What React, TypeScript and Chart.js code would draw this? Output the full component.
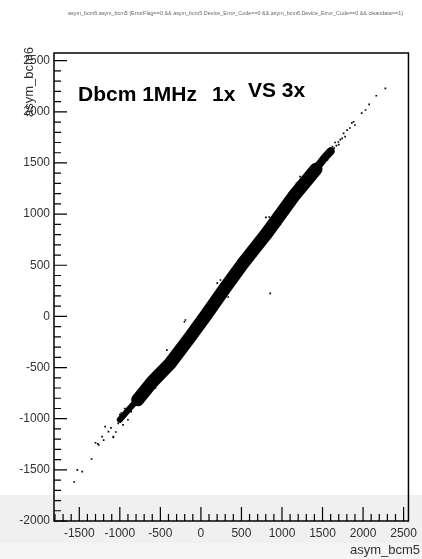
import { useEffect, useRef } from "react";
import { Chart, registerables } from "chart.js";

Chart.register(...registerables);

// ---- data ----
const X_MIN = -1812;
const X_MAX = 2560;
const Y_MIN = -2000;
const Y_MAX = 2575;
const X_TICKS = [-1500, -1000, -500, 0, 500, 1000, 1500, 2000, 2500];
const Y_TICKS = [-2000, -1500, -1000, -500, 0, 500, 1000, 1500, 2000, 2500];
const MINOR_STEP = 100;

// dense core of the correlation band (centre line)
const BAND_CORE = [
  { x: -780, y: -815 },
  { x: -600, y: -640 },
  { x: -380, y: -460 },
  { x: -150, y: -220 },
  { x: 70, y: 20 },
  { x: 300, y: 280 },
  { x: 520, y: 520 },
  { x: 800, y: 800 },
  { x: 1140, y: 1170 },
  { x: 1420, y: 1440 },
];
// thinner ends of the band
const BAND_LOW_TAIL = [
  { x: -1000, y: -1010 },
  { x: -880, y: -900 },
  { x: -760, y: -795 },
];
const BAND_HIGH_TAIL = [
  { x: 1400, y: 1425 },
  { x: 1520, y: 1545 },
  { x: 1600, y: 1615 },
];

// sparse events / outliers
const SPARSE_X = [
  2275, 2163, 2075, 2031, 1983, 1883, 1862, 1899, 1839, 1803, 1779, 1742, 1719, 1695, 1671, 1643, 1622, 1599,
  1760, 1700, 1655, 1580, 1560,
  855, 802, 842, 337, 202, 241, -191, -159, -203, 1223, 1180, 980, 620, -420, -560,
  -1300, -1272, -1348, -1524, -1464, -1564, -1140, -1080, -1200, -1220, -1181, -1020, -983, -1260, -1080,
  -1110, -1050, -940, -900, -860, -1000, -960,
];
const SPARSE_Y = [
  2230, 2157, 2073, 2018, 1988, 1903, 1891, 1871, 1842, 1822, 1757, 1741, 1728, 1705, 1669, 1646, 1659, 1627,
  1790, 1680, 1700, 1620, 1530,
  226, 969, 972, 190, 326, 356, -35, -263, -52, 1366, 1300, 900, 700, -330, -700,
  -1235, -1247, -1394, -1501, -1518, -1619, -1127, -1176, -1209, -1176, -1078, -1045, -944, -1257, -1182,
  -1090, -1130, -900, -1010, -930, -960, -1060,
];

const TOP_TITLE =
  "asym_bcm6:asym_bcm5 {ErrorFlag==0 && asym_bcm5.Device_Error_Code==0 && asym_bcm6.Device_Error_Code==0 && cleandata==1}";
const LABEL_MAIN = "Dbcm 1MHz";
const LABEL_1X = "1x";
const LABEL_VS = "VS 3x";
const X_TITLE = "asym_bcm5";
const Y_TITLE = "asym_bcm6";

const FONT = "'Liberation Sans', Arial, Helvetica, sans-serif";

const framePlugin = {
  id: "rootFrame",
  afterDraw(chart: any) {
    const { ctx, chartArea } = chart;
    const xs = chart.scales.x;
    const ys = chart.scales.y;
    const { left, right, top, bottom } = chartArea;
    ctx.save();
    ctx.strokeStyle = "#000";
    ctx.lineWidth = 1.5;
    ctx.strokeRect(left, top, right - left, bottom - top);

    ctx.lineWidth = 1.2;
    ctx.beginPath();
    for (let v = Math.ceil(Y_MIN / MINOR_STEP) * MINOR_STEP; v <= Y_MAX; v += MINOR_STEP) {
      const py = ys.getPixelForValue(v);
      if (py < top || py > bottom) continue;
      const len = v % 500 === 0 ? 13 : 7;
      ctx.moveTo(left, py);
      ctx.lineTo(left + len, py);
    }
    for (let v = Math.ceil(X_MIN / MINOR_STEP) * MINOR_STEP; v <= X_MAX; v += MINOR_STEP) {
      const px = xs.getPixelForValue(v);
      if (px < left || px > right) continue;
      const len = v % 500 === 0 ? 14 : 7;
      ctx.moveTo(px, bottom);
      ctx.lineTo(px, bottom - len);
    }
    ctx.stroke();

    // top tiny title
    ctx.fillStyle = "#666";
    ctx.font = `6px ${FONT}`;
    ctx.textAlign = "left";
    ctx.textBaseline = "middle";
    ctx.fillText(TOP_TITLE, 68, 13, 335);

    // in-plot label
    ctx.fillStyle = "#000";
    ctx.font = `bold 21px ${FONT}`;
    ctx.textBaseline = "alphabetic";
    ctx.fillText(LABEL_MAIN, 78, 101);
    ctx.fillText(LABEL_1X, 212, 101);
    ctx.fillText(LABEL_VS, 248, 96.5);

    // axis titles
    ctx.fillStyle = "#333";
    ctx.font = `13px ${FONT}`;
    ctx.textAlign = "right";
    ctx.fillText(X_TITLE, 420, 554);
    ctx.save();
    ctx.translate(33, 47);
    ctx.rotate(-Math.PI / 2);
    ctx.textAlign = "right";
    ctx.textBaseline = "alphabetic";
    ctx.fillText(Y_TITLE, 0, 0);
    ctx.restore();

    // light grey band at the bottom of the screenshot
    ctx.fillStyle = "rgba(0,0,0,0.06)";
    ctx.fillRect(0, 495, chart.width, 48);
    ctx.fillStyle = "rgba(0,0,0,0.04)";
    ctx.fillRect(0, 543, chart.width, chart.height - 543);
    ctx.restore();
  },
};

export default function App() {
  const ref = useRef<HTMLCanvasElement | null>(null);
  useEffect(() => {
    if (!ref.current) return;
    const sparse = SPARSE_X.map((x, i) => ({ x, y: SPARSE_Y[i] }));
    const chart = new Chart(ref.current, {
      type: "scatter",
      data: {
        datasets: [
          {
            data: BAND_LOW_TAIL,
            showLine: true,
            borderColor: "#000",
            borderWidth: 6,
            borderCapStyle: "round",
            pointRadius: 0,
          },
          {
            data: BAND_HIGH_TAIL,
            showLine: true,
            borderColor: "#000",
            borderWidth: 8,
            borderCapStyle: "round",
            pointRadius: 0,
          },
          {
            data: BAND_CORE,
            showLine: true,
            borderColor: "#000",
            borderWidth: 13,
            borderCapStyle: "round",
            borderJoinStyle: "round",
            pointRadius: 0,
          },
          {
            data: sparse,
            pointStyle: "rect",
            pointRadius: 1.2,
            backgroundColor: "#000",
            borderWidth: 0,
          },
        ],
      } as any,
      options: {
        animation: false,
        responsive: false,
        layout: { padding: { left: 0, top: 53, right: 4, bottom: 0 } },
        plugins: { legend: { display: false }, tooltip: { enabled: false } },
        scales: {
          x: {
            type: "linear",
            min: X_MIN,
            max: X_MAX,
            grid: { display: false, drawTicks: false },
            border: { display: false },
            afterFit: (s: any) => {
              s.height = 38;
            },
            afterBuildTicks: (s: any) => {
              s.ticks = X_TICKS.map((v) => ({ value: v }));
            },
            ticks: {
              padding: 5,
              maxRotation: 0,
              autoSkip: false,
              color: "#333",
              font: { family: FONT, size: 12 },
              callback: (v: any) => String(v),
            },
          },
          y: {
            type: "linear",
            min: Y_MIN,
            max: Y_MAX,
            grid: { display: false, drawTicks: false },
            border: { display: false },
            afterFit: (s: any) => {
              s.width = 54;
            },
            afterBuildTicks: (s: any) => {
              s.ticks = Y_TICKS.map((v) => ({ value: v }));
            },
            ticks: {
              padding: 4,
              autoSkip: false,
              color: "#333",
              font: { family: FONT, size: 12 },
              callback: (v: any) => String(v),
            },
          },
        },
      } as any,
      plugins: [framePlugin],
    });
    return () => chart.destroy();
  }, []);
  return (
    <div style={{ position: "absolute", left: 0, top: 0, width: 422, height: 559, background: "#fff" }}>
      <canvas ref={ref} width={422} height={559} style={{ display: "block" }} />
    </div>
  );
}
